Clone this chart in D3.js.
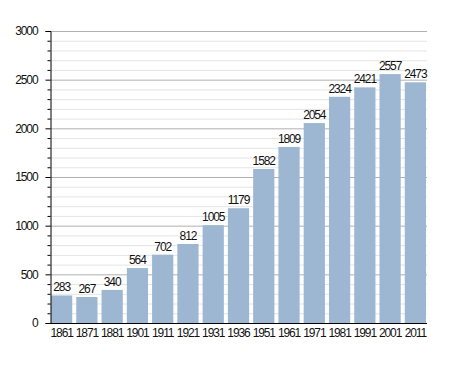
<!DOCTYPE html>
<html><head><meta charset="utf-8">
<script src="https://cdn.jsdelivr.net/npm/d3@7"></script>
<style>body{margin:0;background:#fff}text{font-family:"Liberation Sans",Arial,sans-serif}</style>
</head><body>
<svg id="c" width="455" height="373"></svg>
<script>
const years = ["1861","1871","1881","1901","1911","1921","1931","1936","1951","1961","1971","1981","1991","2001","2011"];
const population = [283,267,340,564,702,812,1005,1179,1582,1809,2054,2324,2421,2557,2473];
const yMajorTicks = [0,500,1000,1500,2000,2500,3000];

const svg = d3.select("#c");
const m = {l:50, r:28, t:31, b:50};
const W = 455, H = 373;
const x = d3.scaleBand().domain(years).range([m.l, W - m.r]).paddingInner(0.16).paddingOuter(0.04);
const y = d3.scaleLinear().domain([0,3000]).range([H - m.b, m.t]);
const FS = 12, LS = -1.1;

// minor gridlines
const minor = d3.range(0, 3001, 100).filter(v => v % 500 !== 0);
svg.append("g").selectAll("line").data(minor).join("line")
  .attr("x1", m.l).attr("x2", W - m.r)
  .attr("y1", d => y(d) + 0.5).attr("y2", d => y(d) + 0.5)
  .attr("stroke", "#e4e4e4").attr("stroke-width", 1);
// major gridlines
svg.append("g").selectAll("line").data(yMajorTicks.filter(v => v > 0)).join("line")
  .attr("x1", m.l).attr("x2", W - m.r)
  .attr("y1", d => y(d) + 0.5).attr("y2", d => y(d) + 0.5)
  .attr("stroke", "#b0b0b0").attr("stroke-width", 1);

// bars
svg.append("g").selectAll("rect").data(population).join("rect")
  .attr("x", (d,i) => x(years[i]))
  .attr("width", x.bandwidth())
  .attr("y", d => y(d))
  .attr("height", d => y(0) - y(d))
  .attr("fill", "#9db6d1");

// value labels
svg.append("g").selectAll("text").data(population).join("text")
  .attr("x", (d,i) => x(years[i]) + x.bandwidth()/2)
  .attr("y", d => y(d) - 4)
  .attr("text-anchor", "middle")
  .attr("font-size", FS).attr("letter-spacing", LS)
  .attr("fill", "#111")
  .text(d => d);

// y axis
const ya = svg.append("g").attr("transform", `translate(${m.l+0.5},0)`);
ya.call(d3.axisLeft(y).tickValues(yMajorTicks).tickSize(5).tickPadding(8).tickFormat(d3.format("d")));
ya.select(".domain").attr("stroke", "#000");
ya.selectAll(".tick line").attr("stroke", "#000");
ya.selectAll(".tick text").attr("font-size", FS).attr("letter-spacing", LS).attr("fill", "#111")
  .style("font-family", '"Liberation Sans",Arial,sans-serif');
ya.append("g").selectAll("line").data(minor).join("line")
  .attr("x1", -3).attr("x2", 0)
  .attr("y1", d => y(d) + 0.5).attr("y2", d => y(d) + 0.5)
  .attr("stroke", "#000");

// x axis
const xa = svg.append("g").attr("transform", `translate(0,${y(0)+0.5})`);
xa.call(d3.axisBottom(x).tickSize(0).tickPadding(5).tickSizeOuter(0));
xa.select(".domain").attr("stroke", "#000").attr("d", `M${m.l},0H${W - m.r}`);
xa.selectAll(".tick text").attr("font-size", FS).attr("letter-spacing", LS).attr("fill", "#111")
  .style("font-family", '"Liberation Sans",Arial,sans-serif');
</script>
</body></html>
